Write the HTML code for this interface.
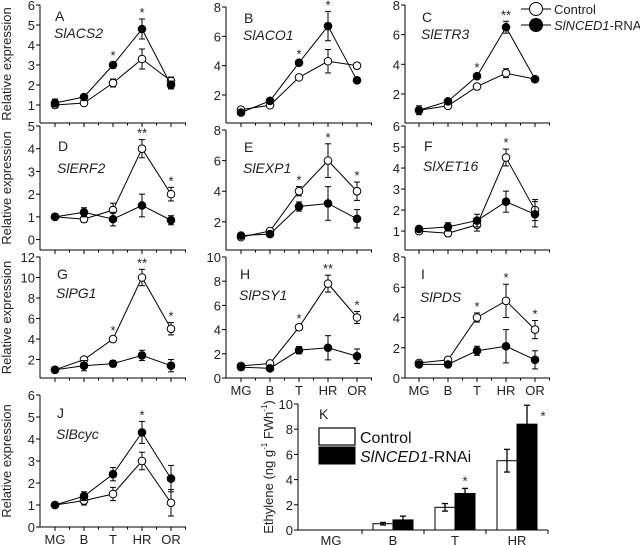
<!DOCTYPE html>
<html><head><meta charset="utf-8"><style>
html,body{margin:0;padding:0;background:#fff;}
svg{display:block;font-family:"Liberation Sans",Arial,sans-serif;}
</style></head><body>
<svg id="fig" width="640" height="545" viewBox="0 0 640 545" xmlns="http://www.w3.org/2000/svg"></svg>
<script>
const stages = ["MG","B","T","HR","OR"];
const ctrlA=[1.0,1.1,2.1,3.3,2.2], ctrlAErr=[0.15,0.1,0.2,0.5,0.2];
const rnaiA=[1.1,1.4,3.0,4.8,2.0], rnaiAErr=[0.2,0.1,0.15,0.5,0.2];
const ctrlB=[1.0,1.3,3.2,4.3,4.0], ctrlBErr=[0.15,0.1,0.15,0.8,0.2];
const rnaiB=[0.8,1.6,4.2,6.7,3.0], rnaiBErr=[0.15,0.1,0.15,1.0,0.1];
const ctrlC=[0.9,1.2,2.5,3.4,3.0], ctrlCErr=[0.15,0.1,0.15,0.3,0.15];
const rnaiC=[0.9,1.5,3.2,6.5,3.0], rnaiCErr=[0.3,0.1,0.15,0.4,0.15];
const ctrlD=[1.0,0.9,1.3,4.0,2.0], ctrlDErr=[0.1,0.15,0.3,0.4,0.3];
const rnaiD=[1.0,1.2,0.9,1.5,0.85], rnaiDErr=[0.1,0.2,0.3,0.5,0.2];
const ctrlE=[1.0,1.4,4.0,6.0,4.0], ctrlEErr=[0.1,0.1,0.3,1.1,0.6];
const rnaiE=[1.1,1.2,3.0,3.2,2.2], rnaiEErr=[0.1,0.1,0.3,1.1,0.6];
const ctrlF=[1.0,0.9,1.3,4.5,2.0], ctrlFErr=[0.1,0.15,0.3,0.4,0.5];
const rnaiF=[1.1,1.2,1.5,2.4,1.8], rnaiFErr=[0.1,0.2,0.3,0.5,0.6];
const ctrlG=[1.0,2.0,4.0,10.0,5.0], ctrlGErr=[0.1,0.2,0.2,0.8,0.6];
const rnaiG=[1.0,1.4,1.6,2.4,1.4], rnaiGErr=[0.1,0.5,0.3,0.5,0.6];
const ctrlH=[1.0,1.2,4.2,7.8,5.0], ctrlHErr=[0.1,0.1,0.2,0.7,0.5];
const rnaiH=[0.9,0.8,2.3,2.5,1.8], rnaiHErr=[0.1,0.1,0.3,1.0,0.6];
const ctrlI=[1.0,1.2,4.0,5.1,3.2], ctrlIErr=[0.1,0.1,0.3,1.1,0.6];
const rnaiI=[0.9,0.9,1.8,2.1,1.2], rnaiIErr=[0.1,0.1,0.3,1.1,0.6];
const ctrlJ=[1.0,1.2,1.5,3.0,1.1], ctrlJErr=[0.05,0.2,0.3,0.4,0.6];
const rnaiJ=[1.0,1.4,2.4,4.3,2.2], rnaiJErr=[0.05,0.2,0.3,0.5,0.6];
const starsA=["","","*","*",""], starsB=["","","*","*",""], starsC=["","","*","**",""];
const starsD=["","","","**","*"], starsE=["","","*","*","*"], starsF=["","","","*",""];
const starsG=["","","*","**","*"], starsH=["","","*","**","*"], starsI=["","","*","*","*"];
const starsJ=["","","","*",""];
const kStages=["MG","B","T","HR"];
const kCtrl=[0,0.5,1.8,5.5], kCtrlErr=[0,0.1,0.3,0.9];
const kRnai=[0,0.8,2.9,8.4], kRnaiErr=[0,0.3,0.4,1.5];
const kStars=["","","*","*"];
const kTicks=[0,2,4,6,8,10];

const NS="http://www.w3.org/2000/svg";
const svg=document.getElementById('fig');
function mk(tag,attrs,parent){const e=document.createElementNS(NS,tag);for(const k in attrs)e.setAttribute(k,attrs[k]);(parent||svg).appendChild(e);return e;}

const panels=[
 {id:"a",L:"A",gene:"SlACS2",ax:40,mg:55,top:5,bot:123,vmin:0.1,vmax:6,ticks:[1,2,3,4,5,6],c:ctrlA,ce:ctrlAErr,r:rnaiA,re:rnaiAErr,s:starsA,lx:55,ly:21,gy:38,xl:false,rl:true},
 {id:"b",L:"B",gene:"SlACO1",ax:226,mg:241,top:7,bot:123,vmin:0.09,vmax:8,ticks:[2,4,6,8],c:ctrlB,ce:ctrlBErr,r:rnaiB,re:rnaiBErr,s:starsB,lx:244,ly:23,gy:40},
 {id:"c",L:"C",gene:"SlETR3",ax:405,mg:419,top:5,bot:123,vmin:0.04,vmax:8,ticks:[2,4,6,8],c:ctrlC,ce:ctrlCErr,r:rnaiC,re:rnaiCErr,s:starsC,lx:422,ly:22,gy:39},
 {id:"d",L:"D",gene:"SlERF2",ax:40,mg:55,top:126,bot:250,vmin:-0.46,vmax:5,ticks:[0,1,2,3,4,5],c:ctrlD,ce:ctrlDErr,r:rnaiD,re:rnaiDErr,s:starsD,lx:58,ly:151,gy:173,rl:true},
 {id:"e",L:"E",gene:"SlEXP1",ax:226,mg:241,top:130,bot:250,vmin:0.16,vmax:8,ticks:[2,4,6,8],c:ctrlE,ce:ctrlEErr,r:rnaiE,re:rnaiEErr,s:starsE,lx:244,ly:152,gy:173},
 {id:"f",L:"F",gene:"SlXET16",ax:405,mg:419,top:126,bot:250,vmin:0.1,vmax:6,ticks:[1,2,3,4,5,6],c:ctrlF,ce:ctrlFErr,r:rnaiF,re:rnaiFErr,s:starsF,lx:424,ly:151,gy:171},
 {id:"g",L:"G",gene:"SlPG1",ax:40,mg:55,top:257,bot:378,vmin:0.2,vmax:12,ticks:[2,4,6,8,10,12],c:ctrlG,ce:ctrlGErr,r:rnaiG,re:rnaiGErr,s:starsG,lx:57,ly:279,gy:298,rl:true},
 {id:"h",L:"H",gene:"SlPSY1",ax:226,mg:241,top:257,bot:378,vmin:0,vmax:10,ticks:[0,2,4,6,8,10],c:ctrlH,ce:ctrlHErr,r:rnaiH,re:rnaiHErr,s:starsH,lx:240,ly:279,gy:300,xl:true},
 {id:"i",L:"I",gene:"SlPDS",ax:405,mg:419,top:257,bot:378,vmin:0,vmax:8,ticks:[0,2,4,6,8],c:ctrlI,ce:ctrlIErr,r:rnaiI,re:rnaiIErr,s:starsI,lx:421,ly:279,gy:302,xl:true},
 {id:"j",L:"J",gene:"SlBcyc",ax:40,mg:55,top:395,bot:527,vmin:0,vmax:6,ticks:[0,1,2,3,4,5,6],c:ctrlJ,ce:ctrlJErr,r:rnaiJ,re:rnaiJErr,s:starsJ,lx:57,ly:418,gy:439,xl:true,rl:true}
];
const step=29;

panels.forEach(p=>{
 const g=mk('g',{});
 
 
 const y=v=>p.bot-(v-p.vmin)/(p.vmax-p.vmin)*(p.bot-p.top);
 const x=i=>p.mg+i*step;
 const right=p.mg+4*step+15;
 const yaxis=mk('line',{x1:p.ax,y1:p.top,x2:p.ax,y2:p.bot,stroke:'#000','stroke-width':1},g);
 
 
 const xaxis=mk('line',{x1:p.ax,y1:p.bot,x2:right,y2:p.bot,stroke:'#000','stroke-width':1},g);
 
 
 p.ticks.forEach(t=>{
  mk('line',{x1:p.ax-4,y1:y(t),x2:p.ax,y2:y(t),stroke:'#000'},g);
  const tl=mk('text',{x:p.ax-5,y:y(t)+5,'text-anchor':'end','font-size':13,fill:'#222'},g);
  tl.textContent=t;
  
  
 });
 for(let i=0;i<5;i++){
  mk('line',{x1:x(i),y1:p.bot,x2:x(i),y2:p.bot+4,stroke:'#000'},g);
  mk('line',{x1:x(i)+step/2,y1:p.bot,x2:x(i)+step/2,y2:p.bot+2.5,stroke:'#000'},g);
  if(p.xl){
   const xl=mk('text',{x:x(i),y:p.bot+17,'text-anchor':'middle','font-size':13,fill:'#222'},g);
   xl.textContent=stages[i];
   
   
  }
 }
 if(p.rl){
  const cy=(p.top+p.bot)/2;
  const rl=mk('text',{x:11,y:cy,'text-anchor':'middle','font-size':13,fill:'#222',transform:`rotate(-90 11 ${cy})`},g);
  rl.textContent='Relative expression';
  
  
 }
 const lt=mk('text',{x:p.lx,y:p.ly,'font-size':14,fill:'#222'},g);
 lt.textContent=p.L;
 
 
 const gt=mk('text',{x:p.lx-1,y:p.gy,'font-size':14,'font-style':'italic',fill:'#222'},g);
 gt.textContent=p.gene;
 
 
 [[p.c,p.ce,'#fff','control'],[p.r,p.re,'#000','rnai']].forEach(([vals,errs,fill,nm])=>{
  const pts=vals.map((v,i)=>x(i)+','+y(v)).join(' ');
  const pl=mk('polyline',{points:pts,fill:'none',stroke:'#000','stroke-width':1},g);
  
  
  vals.forEach((v,i)=>{
   const e=errs[i];
   mk('line',{x1:x(i),y1:y(v+e),x2:x(i),y2:y(v-e),stroke:'#000'},g);
   mk('line',{x1:x(i)-3,y1:y(v+e),x2:x(i)+3,y2:y(v+e),stroke:'#000'},g);
   mk('line',{x1:x(i)-3,y1:y(v-e),x2:x(i)+3,y2:y(v-e),stroke:'#000'},g);
  });
  vals.forEach((v,i)=>{
   const c=mk('circle',{cx:x(i),cy:y(v),r:3.8,fill:fill,stroke:'#000','stroke-width':1},g);
   
   
  });
 });
 p.s.forEach((s,i)=>{
  if(!s)return;
  const top=Math.min(y(p.c[i]+p.ce[i]),y(p.r[i]+p.re[i]));
  const st=mk('text',{x:x(i),y:top-2,'text-anchor':'middle','font-size':13,fill:'#222'},g);
  st.textContent=s;
  
  
 });
});

// Top legend
const lg=mk('g',{});


[['#fff','Control',9],['#000','',25]].forEach(([f,t,yy],k)=>{
 mk('line',{x1:521,y1:yy,x2:551,y2:yy,stroke:'#000'},lg);
 const c=mk('circle',{cx:536,cy:yy,r:6.5,fill:f,stroke:'#000'},lg);
 
 
 const tx=mk('text',{x:554,y:yy+5,'font-size':13,fill:'#222'},lg);
 
 
 if(k)tx.innerHTML='<tspan font-style="italic">SlNCED1</tspan>-RNAi';else tx.textContent=t;
});

// Panel K
const gk=mk('g',{});


const kx0=298,kTop=404,kBot=530,kRight=548,kMax=10;
const ky=v=>kBot-v/kMax*(kBot-kTop);
const kc=i=>331+i*62;
const kya=mk('line',{x1:kx0,y1:kTop,x2:kx0,y2:kBot,stroke:'#000'},gk);


const kxa=mk('line',{x1:kx0,y1:kBot,x2:kRight,y2:kBot,stroke:'#000'},gk);


kTicks.forEach(t=>{
 mk('line',{x1:kx0-4,y1:ky(t),x2:kx0,y2:ky(t),stroke:'#000'},gk);
 const tl=mk('text',{x:kx0-5,y:ky(t)+5,'text-anchor':'end','font-size':13,fill:'#222'},gk);
 tl.textContent=t;
 
 
});
kStages.forEach((s,i)=>{
 mk('line',{x1:kc(i)+31,y1:kBot,x2:kc(i)+31,y2:kBot+4,stroke:'#000'},gk);
 const xl=mk('text',{x:kc(i),y:kBot+15,'text-anchor':'middle','font-size':13,fill:'#222'},gk);
 xl.textContent=s;
 
 
 [[kCtrl,kCtrlErr,'#fff',-20,'control'],[kRnai,kRnaiErr,'#000',0,'rnai']].forEach(([vals,errs,f,off,nm])=>{
  const v=vals[i],e=errs[i];
  if(v<=0)return;
  const b=mk('rect',{x:kc(i)+off,y:ky(v),width:20,height:kBot-ky(v),fill:f,stroke:'#000','stroke-width':1},gk);
  
  
  const cx=kc(i)+off+10;
  mk('line',{x1:cx,y1:ky(v+e),x2:cx,y2:ky(v-e),stroke:'#000','stroke-width':1.3},gk);
  mk('line',{x1:cx-3,y1:ky(v+e),x2:cx+3,y2:ky(v+e),stroke:'#000','stroke-width':1.3},gk);
  mk('line',{x1:cx-3,y1:ky(v-e),x2:cx+3,y2:ky(v-e),stroke:'#000','stroke-width':1.3},gk);
 });
 if(kStars[i]){
  const hr=i===3;
  const st=mk('text',{x:hr?kc(i)+26:kc(i)+10,y:hr?ky(kRnai[i]+kRnaiErr[i])+15:ky(kRnai[i]+kRnaiErr[i])-3,'text-anchor':'middle','font-size':13,fill:'#222'},gk);
  st.textContent=kStars[i];
  
  
 }
});
const kyt=mk('text',{x:273,y:467,'text-anchor':'middle','font-size':13,fill:'#222',transform:'rotate(-90 273 467)'},gk);
kyt.innerHTML='Ethylene (ng g<tspan font-size="8" dy="-6">-1</tspan><tspan dy="6"> FWh</tspan><tspan font-size="8" dy="-6">-1</tspan><tspan dy="6">)</tspan>';


const kl=mk('text',{x:319,y:419,'font-size':14,fill:'#222'},gk);
kl.textContent='K';


const kb1=mk('rect',{x:319,y:428,width:36,height:17,fill:'#fff',stroke:'#000','stroke-width':1.2},gk);


const kb2=mk('rect',{x:319,y:447,width:36,height:17,fill:'#000',stroke:'#000'},gk);


const kt1=mk('text',{x:360,y:443,'font-size':16,fill:'#111'},gk);
kt1.textContent='Control';


const kt2=mk('text',{x:360,y:462,'font-size':16,fill:'#111'},gk);
kt2.innerHTML='<tspan font-style="italic">SlNCED1</tspan>-RNAi';


</script>
</body></html>
